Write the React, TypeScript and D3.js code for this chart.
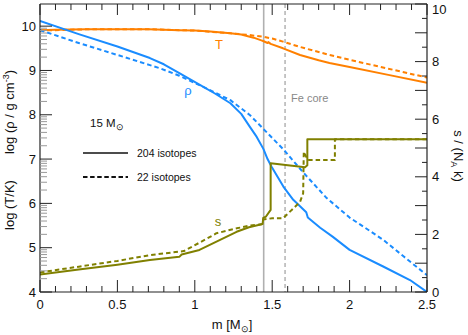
import React from "react";
import * as d3 from "d3";

const W = 468;
const H = 335;
const M = { left: 40, right: 427, top: 4, bottom: 292 };

// log T (left axis), mass in M_sun
const tSolid: [number, number][] = [
  [0, 9.91], [0.1, 9.92], [0.3, 9.93], [0.5, 9.93], [0.7, 9.93], [0.9, 9.91],
  [1.0, 9.9], [1.1, 9.88], [1.23, 9.84], [1.3, 9.81], [1.38, 9.74], [1.43, 9.68],
  [1.445, 9.66], [1.47, 9.62], [1.475, 9.64], [1.49, 9.6], [1.57, 9.5], [1.68, 9.35],
  [1.8, 9.23], [1.87, 9.17], [2.0, 9.08], [2.25, 8.9], [2.5, 8.72],
];
const tDashed: [number, number][] = [
  [0, 9.9], [0.3, 9.93], [0.7, 9.93], [1.0, 9.9], [1.23, 9.84], [1.35, 9.8],
  [1.443, 9.76], [1.5, 9.72], [1.57, 9.65], [1.68, 9.53], [1.87, 9.35], [2.0, 9.24],
  [2.25, 9.04], [2.5, 8.84],
];

// log rho (left axis)
const rhoSolid: [number, number][] = [
  [0, 10.12], [0.25, 9.82], [0.5, 9.54], [0.71, 9.28], [0.8, 9.14], [0.9, 8.94],
  [1.03, 8.68], [1.13, 8.48], [1.23, 8.26], [1.3, 8.02], [1.357, 7.72], [1.4, 7.5],
  [1.443, 7.23], [1.47, 7.0], [1.497, 6.82], [1.572, 6.38], [1.636, 6.08], [1.72, 5.8],
  [1.73, 5.68], [1.81, 5.45], [1.89, 5.25], [2.0, 4.95], [2.22, 4.57], [2.39, 4.27],
  [2.5, 4.0],
];
const rhoDashed: [number, number][] = [
  [0, 9.91], [0.25, 9.62], [0.5, 9.35], [0.71, 9.12], [0.775, 9.05], [0.9, 8.88],
  [1.03, 8.67], [1.23, 8.33], [1.357, 7.99], [1.443, 7.68], [1.572, 7.22], [1.7, 6.7],
  [1.852, 6.12], [2.0, 5.68], [2.1, 5.45], [2.22, 5.17], [2.35, 4.8], [2.5, 4.38],
];

// entropy s / (N_A k) (right axis)
const sSolid: [number, number][] = [
  [0, 0.61], [0.25, 0.78], [0.5, 0.95], [0.71, 1.11], [0.9, 1.22], [0.915, 1.3],
  [1.03, 1.46], [1.14, 1.75], [1.27, 2.09], [1.35, 2.25], [1.438, 2.36], [1.442, 2.57],
  [1.46, 2.62], [1.49, 2.85], [1.49, 4.47], [1.712, 4.33], [1.727, 4.4], [1.727, 5.3],
  [2.5, 5.3],
];
const sDashed: [number, number][] = [
  [0, 0.68], [0.25, 0.88], [0.5, 1.08], [0.71, 1.28], [0.93, 1.42], [1.06, 1.8],
  [1.14, 2.04], [1.27, 2.21], [1.35, 2.3], [1.43, 2.35], [1.442, 2.52], [1.5, 2.56],
  [1.57, 2.56], [1.636, 2.9], [1.68, 3.13], [1.7, 3.43], [1.704, 4.87], [1.73, 4.58],
  [1.905, 4.58], [1.905, 5.3], [2.5, 5.3],
];

const xTickLabels = [0, 0.5, 1, 1.5, 2, 2.5];
const leftTickLabels = [4, 5, 6, 7, 8, 9, 10];
const rightTickLabels = [0, 2, 4, 6, 8, 10];
const coreEdge = 1.445;
const feCore = 1.583;

const ORANGE = "#ff8000";
const BLUE = "#1a8cff";
const OLIVE = "#808000";
const FONT = "Liberation Sans, Arial, Helvetica, sans-serif";

export default function App() {
  const x = d3.scaleLinear().domain([0, 2.5]).range([M.left, M.right]);
  const yL = d3.scaleLinear().domain([4, 10.5]).range([M.bottom, M.top]);
  const yR = d3.scaleLinear().domain([0, 10]).range([M.bottom, M.top]);

  const lineL = d3.line<[number, number]>().x((d) => x(d[0])).y((d) => yL(d[1]));
  const lineR = d3.line<[number, number]>().x((d) => x(d[0])).y((d) => yR(d[1]));

  const xMinor = d3.range(0, 26).map((i) => i / 10);
  const leftMinor: number[] = [];
  for (let n = 4; n < 10; n++) {
    for (let k = 2; k <= 9; k++) leftMinor.push(n + Math.log10(k));
  }
  const rightTicks = d3.range(0, 21).map((i) => i / 2);

  const dash = "4.5,3";

  return (
    <svg
      width={W}
      height={H}
      style={{ position: "absolute", left: 0, top: 0, background: "#fff" }}
      fontFamily={FONT}
    >
      <defs>
        <clipPath id="plot">
          <rect x={M.left} y={M.top} width={M.right - M.left} height={M.bottom - M.top} />
        </clipPath>
      </defs>

      {/* vertical markers */}
      <line x1={x(coreEdge)} x2={x(coreEdge)} y1={M.top} y2={M.bottom} stroke="#b0b0b0" strokeWidth={1.6} />
      <line x1={x(feCore)} x2={x(feCore)} y1={M.top} y2={M.bottom} stroke="#a0a0a0" strokeWidth={1.2} strokeDasharray="4,3" />

      <g clipPath="url(#plot)" fill="none" strokeWidth={2} strokeLinejoin="round">
        <path d={lineL(tDashed) ?? ""} stroke={ORANGE} strokeDasharray={dash} />
        <path d={lineL(tSolid) ?? ""} stroke={ORANGE} />
        <path d={lineL(rhoDashed) ?? ""} stroke={BLUE} strokeDasharray={dash} />
        <path d={lineL(rhoSolid) ?? ""} stroke={BLUE} />
        <path d={lineR(sDashed) ?? ""} stroke={OLIVE} strokeDasharray={dash} />
        <path d={lineR(sSolid) ?? ""} stroke={OLIVE} />
      </g>

      {/* frame */}
      <g stroke="#222" strokeWidth={1.2}>
        <line x1={M.left} x2={M.right} y1={M.bottom} y2={M.bottom} />
        <line x1={M.left} x2={M.right} y1={M.top} y2={M.top} />
        <line x1={M.left} x2={M.left} y1={M.top} y2={M.bottom} />
        <line x1={M.right} x2={M.right} y1={M.top} y2={M.bottom} />
      </g>

      {/* x ticks bottom and top */}
      <g stroke="#222" strokeWidth={1}>
        {xMinor.map((v) => {
          const major = Math.abs(v * 2 - Math.round(v * 2)) < 1e-6;
          const len = major ? 12 : 6;
          return (
            <g key={v}>
              <line x1={x(v)} x2={x(v)} y1={M.bottom} y2={M.bottom - len} />
              <line x1={x(v)} x2={x(v)} y1={M.top} y2={M.top + (major ? 11 : 6)} />
            </g>
          );
        })}
      </g>
      <g fontSize={13} textAnchor="middle" fill="#111">
        {xTickLabels.map((v) => (
          <text key={v} x={x(v)} y={M.bottom + 17}>{v}</text>
        ))}
      </g>

      {/* left axis */}
      <g stroke="#999" strokeWidth={1}>
        {leftMinor.map((v) => (
          <line key={v} x1={M.left} x2={M.left + 7} y1={yL(v)} y2={yL(v)} />
        ))}
      </g>
      <g stroke="#222" strokeWidth={1}>
        {leftTickLabels.map((v) => (
          <line key={v} x1={M.left} x2={M.left + 12} y1={yL(v)} y2={yL(v)} />
        ))}
      </g>
      <g fontSize={13} textAnchor="end" fill="#111">
        {leftTickLabels.map((v) => (
          <text key={v} x={M.left - 4} y={yL(v) + 4.5}>{v}</text>
        ))}
      </g>

      {/* right axis */}
      <g stroke="#222" strokeWidth={1}>
        {rightTicks.map((v) => (
          <line
            key={v}
            x1={M.right}
            x2={M.right - (Number.isInteger(v) ? 12 : 5)}
            y1={yR(v)}
            y2={yR(v)}
          />
        ))}
      </g>
      <g fontSize={13} textAnchor="start" fill="#111">
        {rightTickLabels.map((v) => (
          <text key={v} x={M.right + 5} y={Math.max(yR(v) + 4.5, 13.5)}>{v}</text>
        ))}
      </g>

      {/* axis titles */}
      <text x={232} y={329} fontSize={13} textAnchor="middle" fill="#111">
        m [M<tspan fontSize={9} dy={3}>⊙</tspan><tspan dy={-3}>]</tspan>
      </text>
      <text transform="translate(14,112) rotate(-90)" fontSize={13} textAnchor="middle" fill="#111">
        log (ρ / g cm<tspan fontSize={9} dy={-5}>-3</tspan><tspan dy={5}>)</tspan>
      </text>
      <text transform="translate(14,205) rotate(-90)" fontSize={13} textAnchor="middle" fill="#111">
        log (T/K)
      </text>
      <text transform="translate(454,156) rotate(90)" fontSize={13} textAnchor="middle" fill="#111">
        s / (N<tspan fontSize={9} dy={3}>A</tspan><tspan dy={-3}> k)</tspan>
      </text>

      {/* curve labels */}
      <text x={219} y={49} fontSize={13} textAnchor="middle" fill={ORANGE}>T</text>
      <text x={188} y={95} fontSize={13} textAnchor="middle" fill={BLUE}>ρ</text>
      <text x={218} y={226} fontSize={13} textAnchor="middle" fill={OLIVE}>s</text>
      <text x={291} y={102} fontSize={11} fill="#888">Fe core</text>

      {/* legend */}
      <text x={90} y={127} fontSize={11.5} fill="#111">
        15 M<tspan fontSize={9} dy={3}>⊙</tspan>
      </text>
      <line x1={83} x2={128} y1={153} y2={153} stroke="#111" strokeWidth={1.5} />
      <text x={137} y={157} fontSize={10.5} fill="#111">204 isotopes</text>
      <line x1={83} x2={128} y1={177} y2={177} stroke="#111" strokeWidth={1.8} strokeDasharray="4.5,2.6" />
      <text x={137} y={181} fontSize={10.5} fill="#111">22 isotopes</text>
    </svg>
  );
}
